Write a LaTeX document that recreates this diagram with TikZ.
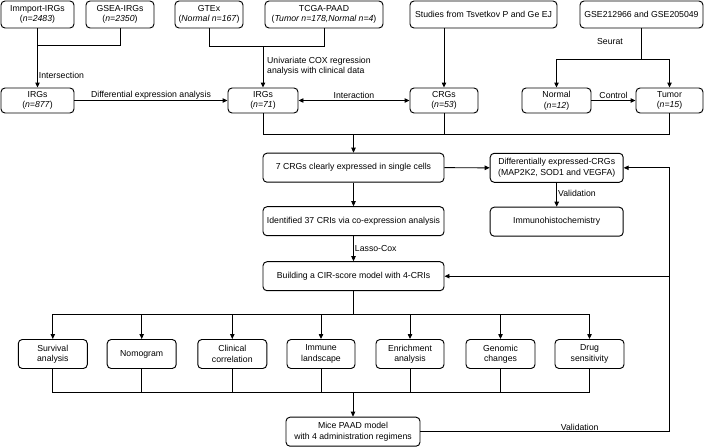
\documentclass[tikz,border=0pt]{standalone}
\usepackage{fontspec}
\setmainfont{Liberation Sans}
\usetikzlibrary{arrows.meta}
\begin{document}
\begin{tikzpicture}[x=1pt,y=-1pt,
  every node/.style={font=\fontsize{8.7}{10.5}\selectfont},
  box/.style={draw, line width=0.95pt, rounded corners=4pt, align=center, inner sep=0pt, minimum height=#1},
  box/.default=27pt,
  ln/.style={line width=0.95pt},
  arr/.style={line width=0.95pt, -{Triangle[length=5pt,width=4.4pt]}},
  darr/.style={line width=0.95pt, {Triangle[length=5pt,width=4.4pt]}-{Triangle[length=5pt,width=4.4pt]}},
  lbl/.style={inner sep=1pt}]
\useasboundingbox (0,0) rectangle (704,447);
% row 1
\node[box, minimum width=73pt] (imm) at (37.5,14.5) {Immport-IRGs\\(\textit{n=2483})};
\node[box, minimum width=68pt] (gsea) at (120,14.5) {GSEA-IRGs\\(\textit{n=2350})};
\node[box, minimum width=68pt] (gtex) at (209,14.5) {GTEx\\(\textit{Normal n=167})};
\node[box, minimum width=118pt] (tcga) at (324,14.5) {TCGA-PAAD\\(\textit{Tumor n=178,Normal n=4})};
\node[box, minimum width=147pt] (stud) at (483.5,14.5) {Studies from Tsvetkov P and Ge EJ};
\node[box, minimum width=123pt] (gse) at (641.5,14.5) {GSE212966 and GSE205049};
% row 2
\node[box=25pt, minimum width=73pt] (irgA) at (37.5,100.5) {IRGs\\(\textit{n=877})};
\node[box=25pt, minimum width=70pt] (irgB) at (263,100.5) {IRGs\\(\textit{n=71})};
\node[box=25pt, minimum width=68pt] (crg) at (444,100.5) {CRGs\\(\textit{n=53})};
\node[box=25pt, minimum width=69pt] (norm) at (556.5,100.5) {Normal\\(\textit{n=12})};
\node[box=25pt, minimum width=67pt] (tum) at (669.5,100.5) {Tumor\\(\textit{n=15})};
% middle
\node[box=29pt, minimum width=181pt] (seven) at (353.5,167.7) {7 CRGs clearly expressed in single cells};
\node[box=29pt, minimum width=181pt] (ident) at (353.5,221.2) {Identified 37 CRIs via co-expression analysis};
\node[box=29pt, minimum width=181pt] (build) at (353.5,276.2) {Building a CIR-score model with 4-CRIs};
\node[box=29pt, minimum width=133pt] (de) at (556.7,167.8) {Differentially expressed-CRGs\\(MAP2K2, SOD1 and VEGFA)};
\node[box=29pt, minimum width=133pt] (ihc) at (556.7,221.7) {Immunohistochemistry};
% analyses
\node[box=29pt, minimum width=69pt] (surv) at (52.8,354) {Survival\\analysis};
\node[box=29pt, minimum width=69pt] (nomo) at (141.7,354) {Nomogram};
\node[box=29pt, minimum width=69pt] (clin) at (232.3,354) {Clinical\\correlation};
\node[box=29pt, minimum width=68pt] (immu) at (321,354) {Immune\\landscape};
\node[box=29pt, minimum width=68pt] (enr) at (410,354) {Enrichment\\analysis};
\node[box=29pt, minimum width=69pt] (gen) at (500.5,354) {Genomic\\changes};
\node[box=29pt, minimum width=69pt] (drug) at (589.5,354) {Drug\\sensitivity};
\node[box=29pt, minimum width=134pt] (mice) at (353,431.7) {Mice PAAD model\\with 4 administration regimens};
% coordinates
\coordinate (j1) at (37.5,45.7);
\coordinate (j2) at (263,46.7);
\coordinate (j3) at (641.5,59);
\coordinate (j4) at (263,134.7);
\coordinate (j5) at (353.5,314);
\coordinate (j6) at (353,392.7);
\coordinate (r1) at (669.3,431.7);
\coordinate (r2) at (669.3,167.8);
\coordinate (r3) at (669.3,276.2);
% connectors top
\draw[ln] (imm.south) -- (j1) -| (gsea.south);
\draw[arr] (j1) -- node[lbl, anchor=west, pos=0.72] {Intersection} (irgA.north);
\draw[ln] (gtex.south) |- (j2) -| (tcga.south);
\draw[arr] (j2) -- (irgB.north);
\node[lbl, anchor=west, align=left] (uni) at (266,66) {Univariate COX regression\\analysis with clinical data};
\draw[arr] (crg.north |- stud.south) -- (crg.north);
\draw[ln] (gse.south) -- (j3);
\draw[arr] (j3) -| (norm.north);
\draw[arr] (j3) -| (tum.north);
\node[lbl] (seu) at (610,41.7) {Seurat};
\draw[arr] (irgA.east) -- node[lbl, above] {Differential expression analysis} (irgB.west);
\draw[darr] (irgB.east) -- node[lbl, above] {Interaction} (crg.west);
\draw[arr] (norm.east) -- node[lbl, above] {Control} (tum.west);
% merge to seven
\draw[ln] (irgB.south) -- (j4) -- (tum.south |- j4) -- (tum.south);
\draw[ln] (crg.south) -- (crg.south |- j4);
\draw[arr] (seven.north |- j4) -- (seven.north);
\draw[arr] (seven.south) -- (ident.north);
\draw[arr] (ident.south) -- node[lbl, anchor=west] {Lasso-Cox} (build.north);
\draw[arr] (seven.east) -- (de.west);
\draw[arr] (de.south) -- node[lbl, anchor=west, pos=0.45] {Validation} (ihc.north);
% fan out
\draw[ln] (build.south) -- (j5);
\draw[ln] (surv.north |- j5) -- (drug.north |- j5);
\foreach \n in {surv,nomo,clin,immu,enr,gen,drug}{
  \draw[arr] (\n.north |- j5) -- (\n.north);
  \draw[ln] (\n.south) -- (\n.south |- j6);
}
\draw[ln] (surv.south |- j6) -- (drug.south |- j6);
\draw[arr] (j6) -- (mice.north);
% feedback
\draw[ln] (mice.east) -- node[lbl, above, pos=0.64] {Validation} (r1) -- (r3);
\draw[arr] (r3) -- (r2) -- (de.east);
\draw[arr] (r3) -- (build.east);
\end{tikzpicture}
\end{document}
